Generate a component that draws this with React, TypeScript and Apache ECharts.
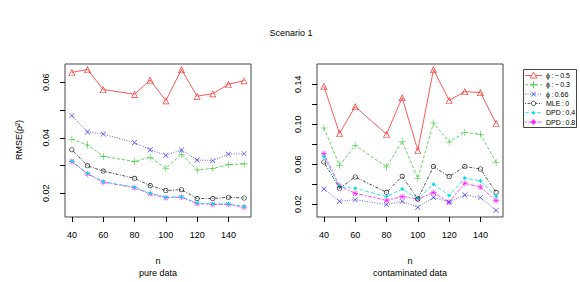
import React, { useEffect, useRef } from "react";
import * as echarts from "echarts";

const nValues = [40, 50, 60, 80, 90, 100, 110, 120, 130, 140, 150];

const seriesNames = [
  "ϕ\u2009:\u2009−\u20090.5",
  "ϕ\u2009:\u2009−\u20090.3",
  "ϕ\u2009:\u20090.66",
  "MLE\u2009:\u20090",
  "DPD\u2009:\u20090.4",
  "DPD\u2009:\u20090.8",
];

// pure data
const pureM05 = [0.0636, 0.0646, 0.0574, 0.0557, 0.0608, 0.0534, 0.0646, 0.055, 0.0559, 0.0593, 0.0606];
const pureM03 = [0.0395, 0.0374, 0.0333, 0.0315, 0.033, 0.029, 0.0341, 0.0284, 0.029, 0.0303, 0.0306];
const pureP066 = [0.048, 0.0421, 0.0413, 0.0383, 0.0357, 0.0337, 0.0356, 0.032, 0.0318, 0.0341, 0.0343];
const pureMLE = [0.0357, 0.0299, 0.028, 0.0254, 0.0228, 0.021, 0.0213, 0.0181, 0.0181, 0.0186, 0.0183];
const pureDPD04 = [0.0316, 0.0272, 0.0242, 0.0222, 0.02, 0.0186, 0.0188, 0.0165, 0.0162, 0.0162, 0.0152];
const pureDPD08 = [0.0314, 0.027, 0.024, 0.022, 0.0198, 0.0184, 0.0186, 0.0163, 0.016, 0.016, 0.015];

// contaminated data
const contM05 = [0.138, 0.091, 0.1177, 0.09, 0.1267, 0.074, 0.1547, 0.124, 0.1327, 0.1317, 0.101];
const contM03 = [0.0963, 0.059, 0.079, 0.0573, 0.083, 0.046, 0.1013, 0.0823, 0.092, 0.09, 0.062];
const contP066 = [0.0353, 0.023, 0.0247, 0.0197, 0.023, 0.017, 0.027, 0.0223, 0.0293, 0.0267, 0.014];
const contMLE = [0.0623, 0.036, 0.0473, 0.032, 0.048, 0.0253, 0.0577, 0.0477, 0.0577, 0.0553, 0.032];
const contDPD04 = [0.0677, 0.0377, 0.036, 0.0277, 0.0353, 0.0257, 0.04, 0.0287, 0.0463, 0.0433, 0.0277];
const contDPD08 = [0.0707, 0.0383, 0.031, 0.024, 0.0277, 0.0253, 0.0317, 0.022, 0.041, 0.0373, 0.0237];

const xTicks = [40, 60, 80, 100, 120, 140];
const leftYTicks = [0.02, 0.03, 0.04, 0.05, 0.06];
const leftYLabels = [0.02, 0.04, 0.06];
const rightYTicks = [0.02, 0.04, 0.06, 0.08, 0.1, 0.12, 0.14];
const rightYLabels = [0.02, 0.06, 0.1, 0.14];

const PLUS =
  "path://M-0.4,-5 L0.4,-5 L0.4,-0.4 L5,-0.4 L5,0.4 L0.4,0.4 L0.4,5 L-0.4,5 L-0.4,0.4 L-5,0.4 L-5,-0.4 L-0.4,-0.4 Z";
const STAR =
  "path://M-0.5,-5 L0.5,-5 L0.5,-1.2 L3.3,-4 L4,-3.3 L1.2,-0.5 L5,-0.5 L5,0.5 L1.2,0.5 L4,3.3 L3.3,4 L0.5,1.2 L0.5,5 L-0.5,5 L-0.5,1.2 L-3.3,4 L-4,3.3 L-1.2,0.5 L-5,0.5 L-5,-0.5 L-1.2,-0.5 L-4,-3.3 L-3.3,-4 L-0.5,-1.2 Z";
const TRI = "path://M0,-5 L5,4 L-5,4 Z M0,-3.2 L-3.5,3.2 L3.5,3.2 Z";
const RING = "path://M5,0 A5,5 0 1 0 -5,0 A5,5 0 1 0 5,0 Z M3.8,0 A3.8,3.8 0 1 1 -3.8,0 A3.8,3.8 0 1 1 3.8,0 Z";

const styles = [
  { color: "#ff3030", symbol: TRI, size: 7, rotate: 0, dash: "solid" as any },
  { color: "#30cc30", symbol: PLUS, size: 7, rotate: 0, dash: [3, 2] },
  { color: "#3a3aff", symbol: PLUS, size: 7, rotate: 45, dash: [1, 1.5] },
  { color: "#222222", symbol: RING, size: 5, rotate: 0, dash: [1, 1.5, 3, 1.5] },
  { color: "#00e0e8", symbol: "diamond", size: 4, rotate: 0, dash: [4, 2] },
  { color: "#ff20ff", symbol: STAR, size: 6, rotate: 0, dash: [2, 1.5, 4, 1.5] },
];

const FONT = "'Liberation Sans', Arial, Helvetica, sans-serif";

export default function App() {
  const ref = useRef<HTMLDivElement>(null);
  useEffect(() => {
    document.body.style.margin = "0";
    if (!ref.current) return;
    const chart = echarts.init(ref.current, undefined, { renderer: "svg" });
    const pureData = [pureM05, pureM03, pureP066, pureMLE, pureDPD04, pureDPD08];
    const contData = [contM05, contM03, contP066, contMLE, contDPD04, contDPD08];
    const series: any[] = [];
    [pureData, contData].forEach((set, gi) => {
      set.forEach((vals, si) => {
        const st = styles[si];
        series.push({
          name: seriesNames[si],
          type: "line",
          xAxisIndex: gi,
          yAxisIndex: gi,
          data: nValues.map((n, i) => [n, vals[i]]),
          symbol: st.symbol,
          symbolSize: st.size,
          symbolRotate: st.rotate,
          showSymbol: true,
          silent: true,
          lineStyle: { color: st.color, width: 0.8, type: st.dash },
          itemStyle: { color: st.color, borderWidth: 0 },
          emphasis: { disabled: true },
          z: 10 - si,
        });
      });
    });
    const xAxisBase = (gi: number) => ({
      type: "value",
      gridIndex: gi,
      min: 35.6,
      max: 154.4,
      axisLine: { show: false },
      splitLine: { show: false },
      axisTick: { show: true, length: 5, customValues: xTicks, lineStyle: { color: "#000", width: 1 } },
      axisLabel: { show: true, customValues: xTicks, margin: 13, color: "#000", fontSize: 9, fontFamily: FONT },
    });
    const yAxisBase = (gi: number, min: number, max: number, ticks: number[], labels: number[]) => ({
      type: "value",
      gridIndex: gi,
      min,
      max,
      axisLine: { show: false },
      splitLine: { show: false },
      axisTick: { show: true, length: 5, customValues: ticks, lineStyle: { color: "#000", width: 1 } },
      axisLabel: {
        show: true,
        customValues: labels,
        rotate: 90,
        margin: 15,
        color: "#000",
        fontSize: 9,
        fontFamily: FONT,
        formatter: (v: number) => v.toFixed(2),
      },
    });

    // hand-drawn legend (box, sample lines, markers, texts)
    const lg: any[] = [];
    const lx = 523, ly = 69, lw = 53, lh = 58;
    lg.push({ type: "rect", shape: { x: lx + 0.5, y: ly + 0.5, width: lw, height: lh }, style: { fill: "#fff", stroke: "#444", lineWidth: 1 }, z: 20 });
    seriesNames.forEach((name, i) => {
      const st = styles[i];
      const cy = ly + 6.5 + i * 9.3;
      lg.push({
        type: "line",
        shape: { x1: lx + 2, y1: cy, x2: lx + 19, y2: cy },
        style: { stroke: st.color, lineWidth: 0.8, lineDash: Array.isArray(st.dash) ? st.dash : null },
        z: 21,
      });
      const mx = lx + 10.5;
      const c = st.color;
      if (i === 0) {
        lg.push({ type: "polygon", shape: { points: [[mx, cy - 3.2], [mx + 3.3, cy + 2.5], [mx - 3.3, cy + 2.5]] }, style: { fill: "#fff", stroke: c, lineWidth: 0.8 }, z: 22 });
      } else if (i === 1) {
        lg.push({ type: "line", shape: { x1: mx - 3.5, y1: cy, x2: mx + 3.5, y2: cy }, style: { stroke: c, lineWidth: 0.8 }, z: 22 });
        lg.push({ type: "line", shape: { x1: mx, y1: cy - 3.5, x2: mx, y2: cy + 3.5 }, style: { stroke: c, lineWidth: 0.8 }, z: 22 });
      } else if (i === 2) {
        lg.push({ type: "line", shape: { x1: mx - 2.5, y1: cy - 2.5, x2: mx + 2.5, y2: cy + 2.5 }, style: { stroke: c, lineWidth: 0.8 }, z: 22 });
        lg.push({ type: "line", shape: { x1: mx - 2.5, y1: cy + 2.5, x2: mx + 2.5, y2: cy - 2.5 }, style: { stroke: c, lineWidth: 0.8 }, z: 22 });
      } else if (i === 3) {
        lg.push({ type: "circle", shape: { cx: mx, cy, r: 2.2 }, style: { fill: "#fff", stroke: c, lineWidth: 0.8 }, z: 22 });
      } else if (i === 4) {
        lg.push({ type: "polygon", shape: { points: [[mx, cy - 2], [mx + 2, cy], [mx, cy + 2], [mx - 2, cy]] }, style: { fill: c }, z: 22 });
      } else {
        lg.push({ type: "circle", shape: { cx: mx, cy, r: 2 }, style: { fill: c }, z: 22 });
        lg.push({ type: "line", shape: { x1: mx - 3, y1: cy, x2: mx + 3, y2: cy }, style: { stroke: c, lineWidth: 0.8 }, z: 22 });
        lg.push({ type: "line", shape: { x1: mx, y1: cy - 3, x2: mx, y2: cy + 3 }, style: { stroke: c, lineWidth: 0.8 }, z: 22 });
      }
      lg.push({
        type: "text",
        x: lx + 23,
        y: cy,
        style: { text: name, fill: "#000", font: `7px ${FONT}`, textAlign: "left", textVerticalAlign: "middle" },
        z: 22,
      });
    });

    chart.setOption({
      animation: false,
      backgroundColor: "#fff",
      grid: [
        { left: 65, top: 64, width: 186, height: 153, show: true, borderColor: "#444", borderWidth: 1, backgroundColor: "transparent" },
        { left: 317, top: 64, width: 186, height: 153, show: true, borderColor: "#444", borderWidth: 1, backgroundColor: "transparent" },
      ],
      xAxis: [xAxisBase(0), xAxisBase(1)],
      yAxis: [
        yAxisBase(0, 0.01146, 0.0666, leftYTicks, leftYLabels),
        yAxisBase(1, 0.0073, 0.1603, rightYTicks, rightYLabels),
      ],
      graphic: [
        { type: "text", x: 291, y: 33, style: { text: "Scenario 1", fill: "#000", font: `9px ${FONT}`, textAlign: "center", textVerticalAlign: "middle" } },
        { type: "text", x: 19, y: 140, rotation: Math.PI / 2, style: { text: "RMSE(ρ²)", fill: "#000", font: `9px ${FONT}`, textAlign: "center", textVerticalAlign: "middle" } },
        { type: "text", x: 158, y: 261, style: { text: "n", fill: "#000", font: `9px ${FONT}`, textAlign: "center", textVerticalAlign: "middle" } },
        { type: "text", x: 158, y: 273, style: { text: "pure data", fill: "#000", font: `9px ${FONT}`, textAlign: "center", textVerticalAlign: "middle" } },
        { type: "text", x: 410, y: 261, style: { text: "n", fill: "#000", font: `9px ${FONT}`, textAlign: "center", textVerticalAlign: "middle" } },
        { type: "text", x: 410, y: 273, style: { text: "contaminated data", fill: "#000", font: `9px ${FONT}`, textAlign: "center", textVerticalAlign: "middle" } },
        ...lg,
      ],
      series,
    });
    return () => chart.dispose();
  }, []);
  return <div ref={ref} style={{ width: 580, height: 282 }} />;
}
